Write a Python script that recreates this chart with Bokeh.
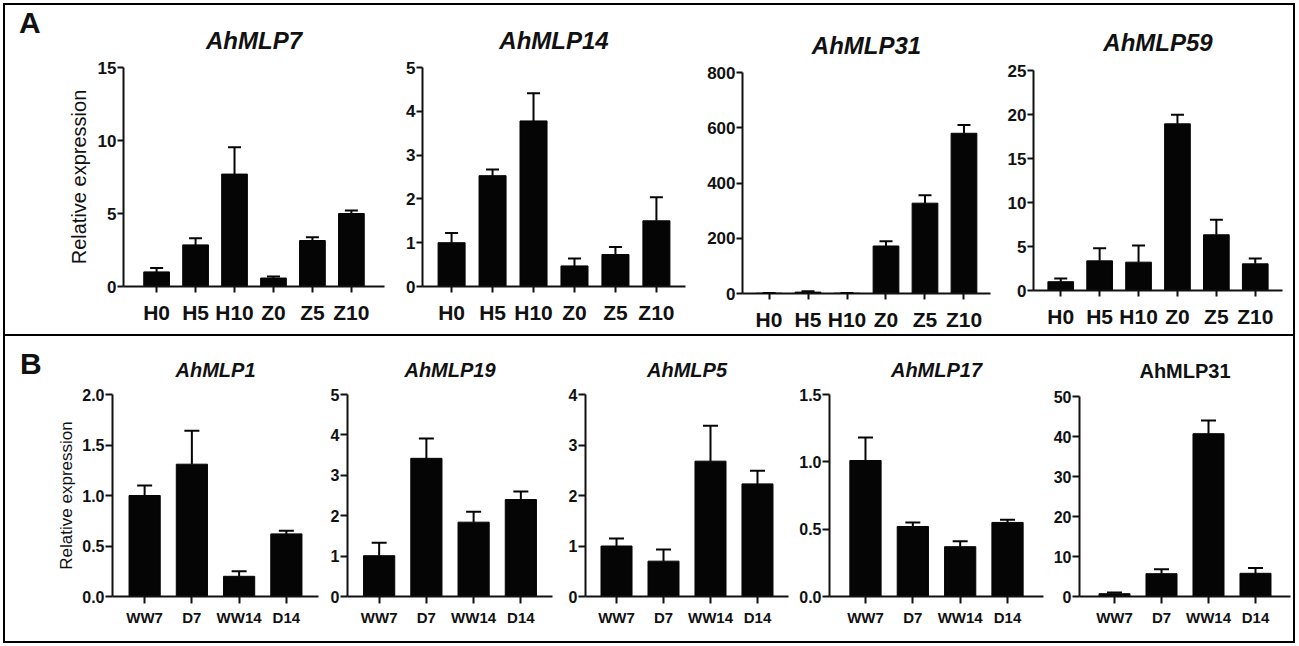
import math
from bokeh.plotting import figure
from bokeh.models import (ColumnDataSource, FactorRange, Range1d, FixedTicker,
                          Whisker, TeeHead, Div)
from bokeh.layouts import row, column
from bokeh.embed import file_html
from bokeh.resources import INLINE

# ---------------- data ----------------
a_categories = ["H0", "H5", "H10", "Z0", "Z5", "Z10"]
b_categories = ["WW7", "D7", "WW14", "D14"]

a_titles = ["AhMLP7", "AhMLP14", "AhMLP31", "AhMLP59"]
ahmlp7_mean = [1.0, 2.85, 7.7, 0.58, 3.15, 5.0]
ahmlp7_err = [0.27, 0.45, 1.83, 0.10, 0.22, 0.20]
ahmlp14_mean = [1.0, 2.53, 3.78, 0.47, 0.73, 1.5]
ahmlp14_err = [0.22, 0.14, 0.63, 0.17, 0.17, 0.54]
ahmlp31a_mean = [1.0, 5.0, 1.0, 172.0, 327.0, 580.0]
ahmlp31a_err = [0.5, 3.0, 0.5, 17.0, 29.0, 30.0]
ahmlp59_mean = [1.0, 3.37, 3.22, 18.94, 6.33, 3.03]
ahmlp59_err = [0.35, 1.44, 1.89, 1.02, 1.70, 0.61]

a_ymax = [15, 5, 800, 25]
a_yticks = [[0, 5, 10, 15], [0, 1, 2, 3, 4, 5], [0, 200, 400, 600, 800], [0, 5, 10, 15, 20, 25]]
a_ylabels = [["0", "5", "10", "15"], ["0", "1", "2", "3", "4", "5"],
             ["0", "200", "400", "600", "800"], ["0", "5", "10", "15", "20", "25"]]

b_titles = ["AhMLP1", "AhMLP19", "AhMLP5", "AhMLP17", "AhMLP31"]
ahmlp1_mean = [1.0, 1.31, 0.20, 0.62]
ahmlp1_err = [0.10, 0.33, 0.05, 0.03]
ahmlp19_mean = [1.01, 3.42, 1.84, 2.40]
ahmlp19_err = [0.32, 0.49, 0.26, 0.20]
ahmlp5_mean = [1.0, 0.70, 2.68, 2.23]
ahmlp5_err = [0.15, 0.23, 0.70, 0.26]
ahmlp17_mean = [1.01, 0.52, 0.37, 0.55]
ahmlp17_err = [0.17, 0.03, 0.04, 0.02]
ahmlp31b_mean = [0.7, 5.7, 40.7, 5.8]
ahmlp31b_err = [0.3, 1.1, 3.3, 1.3]

b_ymax = [2.0, 5, 4, 1.5, 50]
b_yticks = [[0, 0.5, 1.0, 1.5, 2.0], [0, 1, 2, 3, 4, 5], [0, 1, 2, 3, 4],
            [0, 0.5, 1.0, 1.5], [0, 10, 20, 30, 40, 50]]
b_ylabels = [["0.0", "0.5", "1.0", "1.5", "2.0"], ["0", "1", "2", "3", "4", "5"],
             ["0", "1", "2", "3", "4"], ["0.0", "0.5", "1.0", "1.5"],
             ["0", "10", "20", "30", "40", "50"]]

a_means = [ahmlp7_mean, ahmlp14_mean, ahmlp31a_mean, ahmlp59_mean]
a_errs = [ahmlp7_err, ahmlp14_err, ahmlp31a_err, ahmlp59_err]
b_means = [ahmlp1_mean, ahmlp19_mean, ahmlp5_mean, ahmlp17_mean, ahmlp31b_mean]
b_errs = [ahmlp1_err, ahmlp19_err, ahmlp5_err, ahmlp17_err, ahmlp31b_err]

# ---------------- layout (page pixels) ----------------
FONT = "Liberation Sans"
A_Y0, A_H = 5, 329          # panel A: inner top, height
B_Y0, B_H = 336, 305        # panel B: inner top, height
LETTER_W = 40

A_SPLITS = [45, 388, 688, 995, 1293]
A_FRAMES = [(123, 384, 67, 286), (422, 685, 67, 286), (742, 990, 72, 293), (1033, 1282, 70, 290)]
A_TITLE_Y = [33, 33, 37, 33]      # title centre (page px)
A_PAD = [0.35, 0.21, 0.18, 0.2]
B_SPLITS = [45, 322, 558, 795, 1047, 1293]
B_FRAMES = [(112, 318, 394, 596), (347, 552, 394, 596), (585, 788, 394, 596),
            (829, 1043, 394, 596), (1079, 1290, 396, 596)]
B_TITLE_Y = [363, 363, 363, 363, 363]
B_PAD = [0.18, 0.17, 0.16, 0.26, 0.245]


def make_row(titles, cats, means, errs, ymaxs, yticks, ylabels, splits, frames, title_y,
             pads, y0, H, st):
    figs = []
    for i in range(len(titles)):
        a, b = splits[i], splits[i + 1]
        fl, fr, ft, fb = frames[i]
        top_border = ft - y0
        src = ColumnDataSource(dict(x=cats, top=means[i], lower=means[i],
                                    upper=[m + e for m, e in zip(means[i], errs[i])]))
        p = figure(x_range=FactorRange(factors=cats, range_padding=pads[i],
                                       range_padding_units="absolute"),
                   y_range=Range1d(0, ymaxs[i]),
                   width=b - a, height=H,
                   min_border_left=fl - a, min_border_right=b - fr,
                   min_border_top=top_border, min_border_bottom=y0 + H - fb,
                   output_backend="svg", toolbar_location=None, tools="",
                   title=titles[i])
        p.outline_line_color = None
        p.grid.grid_line_color = None
        p.background_fill_color = "white"
        p.border_fill_color = "white"
        p.vbar(x="x", top="top", width=0.66, source=src, fill_color="#050505",
               line_color="#050505", line_width=1)
        w = Whisker(source=src, base="x", upper="upper", lower="lower", dimension="height",
                    line_width=2, line_color="#050505", level="overlay",
                    upper_head=TeeHead(size=st["cap"], line_width=2, line_color="#050505"),
                    lower_head=None)
        p.add_layout(w)

        t = p.title
        t.align = "center"
        t.vertical_align = "top"
        t.text_font = FONT
        t.text_font_size = f"{st['title_px']}px"
        t.text_font_style = "bold" if st["plain_last"] and i == len(titles) - 1 else "bold italic"
        t.text_color = "#111111"
        h = 1.13 * st["title_px"]
        t.standoff = max(0, round((ft - title_y[i]) - h / 2 + 3))

        for ax in (p.xaxis, p.yaxis):
            ax.axis_line_width = 2
            ax.axis_line_color = "#111111"
            ax.major_tick_line_width = 2
            ax.major_tick_line_color = "#111111"
            ax.major_tick_in = 0
            ax.minor_tick_line_color = None
            ax.major_label_text_font = FONT
            ax.major_label_text_font_style = "bold"
            ax.major_label_text_color = "#111111"
        p.xaxis.major_tick_out = st["xtick"]
        p.xaxis.major_label_text_font_size = st["xlab_size"]
        p.xaxis.major_label_standoff = st["xlab_standoff"]
        p.yaxis.major_tick_out = st["ytick"]
        p.yaxis.major_label_text_font_size = st["ylab_size"]
        p.yaxis.major_label_standoff = 1
        p.yaxis.ticker = FixedTicker(ticks=yticks[i])
        p.yaxis.major_label_overrides = {tk: lb for tk, lb in zip(yticks[i], ylabels[i])}
        if i == 0:
            p.yaxis.axis_label = "Relative expression"
            p.yaxis.axis_label_text_font = FONT
            p.yaxis.axis_label_text_font_style = "normal"
            p.yaxis.axis_label_text_font_size = st["axlab_size"]
            p.yaxis.axis_label_text_color = "#111111"
            p.yaxis.axis_label_standoff = st["axlab_standoff"]
        figs.append(column(p))
    return figs


def letter(text, H, top, left):
    return Div(text=text, width=LETTER_W, height=H, margin=0,
               styles={"font-family": FONT, "font-weight": "bold", "font-size": "30px",
                       "line-height": "30px", "color": "#111111", "box-sizing": "border-box",
                       "padding": f"{top}px 0px 0px {left}px", "background": "white"})


figs_a = make_row(a_titles, a_categories, a_means, a_errs, a_ymax, a_yticks, a_ylabels,
                  A_SPLITS, A_FRAMES, A_TITLE_Y, A_PAD, A_Y0, A_H,
                  dict(cap=13, title_px=24, plain_last=False,
                       xtick=6, xlab_size="21px", xlab_standoff=8, ytick=6,
                       ylab_size="17px", axlab_size="20px", axlab_standoff=5))
figs_b = make_row(b_titles, b_categories, b_means, b_errs, b_ymax, b_yticks, b_ylabels,
                  B_SPLITS, B_FRAMES, B_TITLE_Y, B_PAD, B_Y0, B_H,
                  dict(cap=15, title_px=20, plain_last=True,
                       xtick=7, xlab_size="15px", xlab_standoff=5, ytick=7,
                       ylab_size="16px", axlab_size="17px", axlab_standoff=3))

row_a = row(letter("A", A_H, 3, 14), *figs_a)
row_b = row(letter("B", B_H, 13, 15), *figs_b,
            styles={"border-top": "2px solid black"})
page = column(row_a, row_b, styles={"border": "2px solid black", "margin": "3px"})

open("out.html", "w").write(file_html(page, INLINE))
